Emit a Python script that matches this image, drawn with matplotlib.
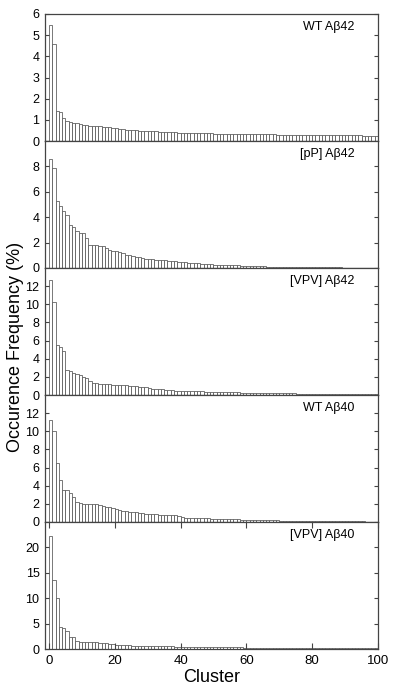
import numpy as np
import matplotlib
matplotlib.use("Agg")
import matplotlib.pyplot as plt

plt.rcParams['font.family'] = ['Liberation Sans', 'DejaVu Sans']

clusters = np.arange(100)

wt42 = [5.48, 4.60, 1.40, 1.36, 1.08, 0.95, 0.88, 0.86, 0.83, 0.80,
        0.77, 0.74, 0.72, 0.71, 0.70, 0.69, 0.67, 0.66, 0.64, 0.62,
        0.60, 0.58, 0.56, 0.54, 0.52, 0.51, 0.50, 0.49, 0.48, 0.47,
        0.46, 0.45, 0.45, 0.44, 0.43, 0.43, 0.42, 0.41, 0.41, 0.40,
        0.40, 0.39, 0.39, 0.38, 0.38, 0.37, 0.37, 0.36, 0.36, 0.36,
        0.35, 0.35, 0.35, 0.34, 0.34, 0.34, 0.34, 0.33, 0.33, 0.33,
        0.33, 0.32, 0.32, 0.32, 0.32, 0.31, 0.31, 0.31, 0.31, 0.30,
        0.30, 0.30, 0.30, 0.30, 0.29, 0.29, 0.29, 0.29, 0.29, 0.28,
        0.28, 0.28, 0.28, 0.28, 0.27, 0.27, 0.27, 0.27, 0.27, 0.26,
        0.26, 0.26, 0.26, 0.26, 0.26, 0.25, 0.25, 0.25, 0.25, 0.25]

pp42 = [8.60, 7.90, 5.25, 4.85, 4.45, 4.20, 3.40, 3.20, 2.95, 2.75,
        2.75, 2.40, 1.85, 1.82, 1.80, 1.75, 1.70, 1.60, 1.45, 1.35,
        1.30, 1.25, 1.15, 1.05, 1.00, 0.95, 0.90, 0.85, 0.78, 0.74,
        0.70, 0.68, 0.66, 0.64, 0.62, 0.60, 0.58, 0.56, 0.52, 0.50,
        0.47, 0.45, 0.42, 0.40, 0.38, 0.36, 0.34, 0.32, 0.30, 0.28,
        0.27, 0.26, 0.25, 0.24, 0.23, 0.22, 0.21, 0.20, 0.19, 0.18,
        0.17, 0.16, 0.15, 0.14, 0.13, 0.12, 0.11, 0.11, 0.10, 0.10,
        0.09, 0.09, 0.08, 0.08, 0.07, 0.07, 0.07, 0.06, 0.06, 0.06,
        0.05, 0.05, 0.05, 0.05, 0.04, 0.04, 0.04, 0.04, 0.04, 0.03,
        0.03, 0.03, 0.03, 0.03, 0.03, 0.02, 0.02, 0.02, 0.02, 0.02]

vpv42 = [12.70, 10.25, 5.55, 5.25, 4.90, 2.80, 2.70, 2.45, 2.27, 2.15,
         1.98, 1.90, 1.55, 1.35, 1.28, 1.22, 1.20, 1.18, 1.16, 1.15,
         1.12, 1.10, 1.08, 1.05, 1.02, 0.98, 0.95, 0.92, 0.88, 0.85,
         0.80, 0.70, 0.66, 0.64, 0.62, 0.60, 0.58, 0.50, 0.48, 0.46,
         0.45, 0.44, 0.43, 0.42, 0.41, 0.40, 0.39, 0.38, 0.37, 0.36,
         0.35, 0.34, 0.33, 0.32, 0.31, 0.30, 0.29, 0.28, 0.27, 0.26,
         0.25, 0.24, 0.24, 0.23, 0.22, 0.22, 0.21, 0.20, 0.20, 0.19,
         0.19, 0.18, 0.18, 0.17, 0.17, 0.16, 0.16, 0.15, 0.15, 0.15,
         0.14, 0.14, 0.13, 0.13, 0.13, 0.12, 0.12, 0.12, 0.11, 0.11,
         0.11, 0.10, 0.10, 0.10, 0.10, 0.09, 0.09, 0.09, 0.09, 0.08]

wt40 = [11.26, 9.98, 6.50, 4.60, 3.58, 3.55, 3.15, 2.78, 2.19, 2.05,
        2.00, 2.00, 1.98, 1.97, 1.95, 1.90, 1.80, 1.65, 1.60, 1.50,
        1.40, 1.30, 1.25, 1.20, 1.12, 1.10, 1.05, 1.00, 0.97, 0.92,
        0.88, 0.86, 0.84, 0.82, 0.80, 0.78, 0.76, 0.75, 0.74, 0.70,
        0.50, 0.48, 0.47, 0.46, 0.45, 0.44, 0.43, 0.41, 0.39, 0.37,
        0.35, 0.34, 0.33, 0.32, 0.31, 0.30, 0.29, 0.28, 0.27, 0.26,
        0.25, 0.24, 0.23, 0.22, 0.21, 0.20, 0.19, 0.18, 0.17, 0.17,
        0.16, 0.15, 0.15, 0.14, 0.14, 0.13, 0.13, 0.12, 0.12, 0.12,
        0.11, 0.11, 0.10, 0.10, 0.09, 0.09, 0.09, 0.08, 0.08, 0.08,
        0.07, 0.07, 0.07, 0.06, 0.06, 0.06, 0.05, 0.05, 0.05, 0.05]

vpv40 = [22.20, 13.50, 10.00, 4.35, 4.20, 3.50, 2.40, 2.40, 1.65, 1.45,
         1.40, 1.40, 1.40, 1.40, 1.38, 1.25, 1.25, 1.22, 1.00, 1.00,
         0.82, 0.80, 0.80, 0.78, 0.76, 0.66, 0.65, 0.64, 0.63, 0.62,
         0.55, 0.54, 0.53, 0.52, 0.52, 0.51, 0.50, 0.50, 0.49, 0.48,
         0.47, 0.46, 0.45, 0.44, 0.43, 0.42, 0.41, 0.40, 0.39, 0.38,
         0.37, 0.36, 0.35, 0.34, 0.33, 0.32, 0.31, 0.30, 0.30, 0.29,
         0.28, 0.27, 0.27, 0.26, 0.25, 0.25, 0.24, 0.23, 0.23, 0.22,
         0.22, 0.21, 0.21, 0.20, 0.20, 0.19, 0.19, 0.18, 0.18, 0.17,
         0.17, 0.16, 0.16, 0.15, 0.15, 0.14, 0.14, 0.14, 0.13, 0.13,
         0.12, 0.12, 0.12, 0.11, 0.11, 0.11, 0.10, 0.10, 0.10, 0.10]

labels = ["WT A\u03b242", "[pP] A\u03b242", "[VPV] A\u03b242", "WT A\u03b240", "[VPV] A\u03b240"]
series = [wt42, pp42, vpv42, wt40, vpv40]
ymax = [6, 10, 14, 14, 25]
yticks = [[0, 1, 2, 3, 4, 5, 6], [0, 2, 4, 6, 8], [0, 2, 4, 6, 8, 10, 12],
          [0, 2, 4, 6, 8, 10, 12], [0, 5, 10, 15, 20]]

fig = plt.figure(figsize=(4.0, 6.94), dpi=100)

left, width = 45 / 400, 333 / 400
top_px = 14
h_px = 127

for i, (vals, lab) in enumerate(zip(series, labels)):
    y0 = 1 - (top_px + (i + 1) * h_px) / 694
    ax = fig.add_axes([left, y0, width, h_px / 694])
    ax.bar(clusters, vals, width=1.0, align='edge', color='white',
           edgecolor='#555555', linewidth=0.55)
    ax.set_xlim(-1.2, 100)
    ax.set_ylim(0, ymax[i])
    ax.set_yticks(yticks[i])
    ax.tick_params(axis='y', direction='in', length=3, width=0.8,
                   labelsize=9, pad=4, right=True, colors='#444444',
                   labelcolor='black')
    if i == len(series) - 1:
        ax.set_xticks([0, 20, 40, 60, 80, 100])
        ax.tick_params(axis='x', direction='in', length=4, width=0.8,
                       labelsize=9.5, pad=4, top=True, colors='#444444',
                       labelcolor='black')
        ax.set_xlabel("Cluster", fontsize=13, labelpad=2)
    else:
        ax.set_xticks([])
    for s in ax.spines.values():
        s.set_color('#444444')
        s.set_linewidth(0.9)
    ax.text(0.93, 0.9, lab, transform=ax.transAxes, ha='right', va='center',
            fontsize=9)

fig.text(0.038, 0.5, "Occurence Frequency (%)", rotation=90, ha='center',
         va='center', fontsize=13)

fig.savefig("out.png", dpi=100)
